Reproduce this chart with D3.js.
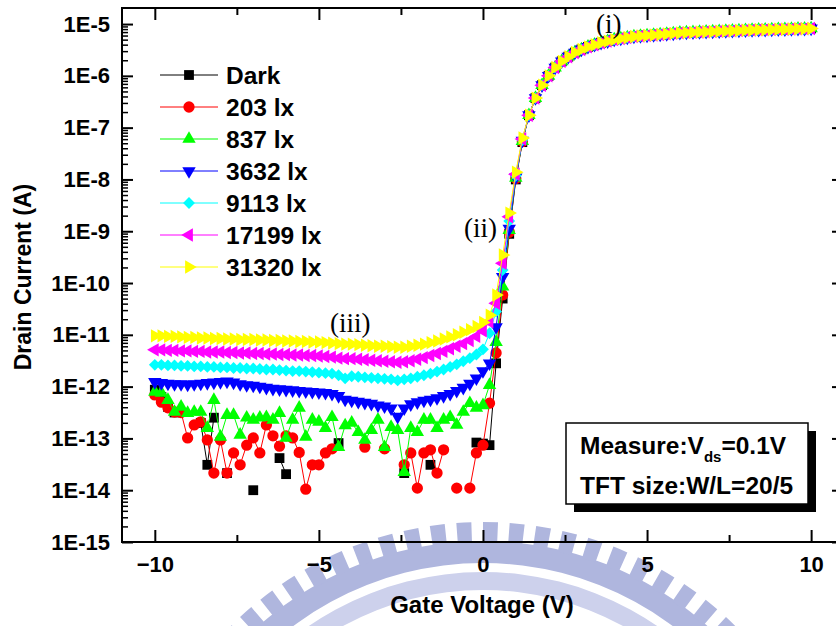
<!DOCTYPE html>
<html>
<head>
<meta charset="utf-8">
<script src="https://cdn.jsdelivr.net/npm/d3@7"></script>
<style>
  body { margin: 0; background: #fff; }
  svg { display: block; }
  text { font-family: "Liberation Sans", Arial, sans-serif; font-weight: bold; fill: #000; }
  .note { font-family: "Liberation Serif", "Times New Roman", serif; font-weight: normal; }
</style>
</head>
<body>
<svg id="chart" width="836" height="626"></svg>
<script>
// Gate sweep: -10 V to +10 V in 0.2 V steps (101 points)
const vgStart = -10, vgStep = 0.2, vgCount = 101;

// log10(Id) for each illumination, Vg = -10 ... +1.2 V (57 points).
// null = point not measured (negative current dropped from the log plot).
const darkLog = [
  -12.06,-12.20,-12.39,-12.50,null,null,null,-12.70,-13.51,-12.60,
  null,-13.67,null,null,null,-14.00,null,null,null,-13.38,
  -13.69,null,null,null,null,null,null,null,-13.09,null,
  null,null,null,null,null,null,null,null,-13.67,null,
  null,null,-13.51,null,null,null,null,null,null,-13.08,
  -13.10,-13.13,-11.55,-10.30,-9.05,-8.00,-7.28
];
const lux203Log = [
  -12.16,-12.30,-12.41,-12.49,-12.50,-12.99,-12.74,-12.68,-13.03,-13.67,
  -13.03,-13.67,-13.28,-13.51,-13.13,-12.99,-13.28,-12.74,-12.95,-13.15,
  -12.95,-12.99,-13.27,-13.98,-13.51,-13.51,-13.28,-13.20,null,null,
  null,null,-13.17,null,null,-13.20,null,null,-13.51,-13.28,
  -13.96,-13.28,-13.22,-13.67,-13.22,null,-13.96,null,-13.96,-13.28,
  -13.13,-12.32,-11.35,-10.23,-9.02,-7.98,-7.27
];
const lux837Log = [
  -12.10,-12.12,-12.26,-12.49,-12.39,-12.51,-12.49,-12.49,-12.80,-12.26,
  -12.97,-12.55,-12.55,-12.93,-12.60,-12.64,-12.60,-12.59,-12.64,-12.51,
  -12.99,-12.64,-12.41,-12.97,-12.64,-12.68,-12.80,-12.59,-13.17,-12.75,
  -12.70,-12.88,-13.03,-12.84,-12.64,-13.17,-12.78,-12.84,-13.65,-12.80,
  -12.88,-12.64,-12.64,-12.80,-12.64,-12.59,-12.74,-12.49,-12.32,-12.41,
  -12.36,-11.97,-11.14,-10.07,-8.98,-7.97,-7.26
];
const lux3632Log = [
  -11.91,-11.93,-11.94,-11.95,-11.95,-11.96,-11.95,-11.94,-11.93,-11.92,
  -11.91,-11.90,-11.92,-11.95,-11.97,-11.98,-12.00,-12.02,-12.04,-12.05,
  -12.06,-12.07,-12.08,-12.09,-12.10,-12.11,-12.12,-12.14,-12.18,-12.25,
  -12.27,-12.29,-12.31,-12.33,-12.36,-12.38,-12.42,-12.58,-12.42,-12.34,
  -12.30,-12.27,-12.25,-12.22,-12.18,-12.14,-12.08,-12.02,-11.94,-11.84,
  -11.70,-11.55,-10.85,-9.88,-8.95,-7.96,-7.25
];
const lux9113Log = [
  -11.58,-11.58,-11.59,-11.59,-11.60,-11.60,-11.61,-11.61,-11.62,-11.62,
  -11.63,-11.63,-11.64,-11.64,-11.65,-11.65,-11.66,-11.67,-11.67,-11.68,
  -11.69,-11.70,-11.70,-11.71,-11.72,-11.73,-11.74,-11.75,-11.78,-11.84,
  -11.80,-11.81,-11.82,-11.83,-11.84,-11.85,-11.86,-11.88,-11.86,-11.84,
  -11.81,-11.78,-11.75,-11.71,-11.67,-11.62,-11.57,-11.51,-11.45,-11.38,
  -11.28,-10.97,-10.55,-9.75,-8.80,-7.93,-7.24
];
const lux17199Log = [
  -11.29,-11.29,-11.30,-11.30,-11.31,-11.31,-11.32,-11.32,-11.33,-11.33,
  -11.33,-11.34,-11.34,-11.35,-11.35,-11.36,-11.36,-11.37,-11.37,-11.38,
  -11.38,-11.39,-11.39,-11.40,-11.40,-11.41,-11.42,-11.43,-11.45,-11.46,
  -11.46,-11.47,-11.48,-11.49,-11.50,-11.51,-11.52,-11.53,-11.52,-11.50,
  -11.47,-11.44,-11.40,-11.36,-11.32,-11.27,-11.22,-11.17,-11.11,-11.03,
  -10.92,-10.75,-10.39,-9.62,-8.72,-7.90,-7.22
];
const lux31320Log = [
  -11.02,-11.02,-11.03,-11.03,-11.04,-11.05,-11.05,-11.06,-11.06,-11.07,
  -11.07,-11.08,-11.08,-11.09,-11.09,-11.09,-11.10,-11.10,-11.11,-11.11,
  -11.12,-11.12,-11.13,-11.13,-11.14,-11.14,-11.15,-11.16,-11.17,-11.18,
  -11.18,-11.19,-11.20,-11.21,-11.22,-11.22,-11.23,-11.24,-11.24,-11.22,
  -11.20,-11.18,-11.15,-11.12,-11.08,-11.04,-11.00,-10.95,-10.90,-10.84,
  -10.76,-10.62,-10.23,-9.46,-8.65,-7.86,-7.20
];
// On-state branch, Vg = +1.4 ... +10 V (44 points); the curves coincide here
const onStateLog = [
  -6.76,-6.43,-6.18,-6.00,-5.84,-5.72,-5.63,-5.55,-5.49,-5.44,
  -5.40,-5.36,-5.33,-5.30,-5.28,-5.26,-5.24,-5.23,-5.22,-5.21,
  -5.20,-5.19,-5.18,-5.17,-5.165,-5.16,-5.155,-5.15,-5.145,-5.14,
  -5.135,-5.13,-5.125,-5.12,-5.115,-5.11,-5.11,-5.105,-5.10,-5.10,
  -5.095,-5.09,-5.09,-5.085
];

const seriesNames  = ["Dark", "203 lx", "837 lx", "3632 lx", "9113 lx", "17199 lx", "31320 lx"];
const seriesColors = ["#000000", "#ff0000", "#00ff00", "#0000ff", "#00ffff", "#ff00ff", "#ffff00"];
const seriesShapes = ["square", "circle", "up", "down", "diamond", "left", "right"];
const seriesLogs   = [darkLog, lux203Log, lux837Log, lux3632Log, lux9113Log, lux17199Log, lux31320Log];

const xMajor = [-10, -5, 0, 5, 10];
const xMinor = [-7.5, -2.5, 2.5, 7.5];
const yMajor = [1e-5, 1e-6, 1e-7, 1e-8, 1e-9, 1e-10, 1e-11, 1e-12, 1e-13, 1e-14, 1e-15];
const yLabels = ["1E-5", "1E-6", "1E-7", "1E-8", "1E-9", "1E-10", "1E-11", "1E-12", "1E-13", "1E-14", "1E-15"];

// ---------- layout ----------
const plotLeft = 122, plotRight = 840, plotTop = 8, plotBottom = 542;
const svg = d3.select("#chart");

const x = d3.scaleLinear().domain([-11, 10.88]).range([plotLeft, plotRight]);
const y = d3.scaleLog().domain([1e-15, Math.pow(10, -4.69)]).range([plotBottom, plotTop]);

// ---------- faint gear emblem behind the lower axis ----------
const emblem = svg.append("g").attr("transform", "translate(483,880)");
const arc = d3.arc();
emblem.append("path")
  .attr("d", arc({ innerRadius: 290, outerRadius: 308, startAngle: -1.0, endAngle: 1.0 }))
  .attr("fill", "#cdd1ec");
emblem.append("path")
  .attr("d", arc({ innerRadius: 317, outerRadius: 339, startAngle: -1.0, endAngle: 1.0 }))
  .attr("fill", "#afb6de");
const toothPitch = 0.0746, toothWidth = 0.042;
emblem.selectAll("path.tooth")
  .data(d3.range(-14, 14))
  .join("path")
  .attr("class", "tooth")
  .attr("d", k => arc({ innerRadius: 337, outerRadius: 358,
                        startAngle: k * toothPitch, endAngle: k * toothPitch + toothWidth }))
  .attr("fill", "#afb6de");

// ---------- axes ----------
function clean(g) { g.select(".domain").remove(); }

svg.append("g").attr("transform", `translate(0,${plotBottom})`)
  .call(d3.axisBottom(x).tickValues(xMajor).tickSizeInner(-12).tickSizeOuter(0).tickPadding(14)
        .tickFormat(d3.format("d")))
  .call(clean)
  .call(g => g.selectAll("line").attr("stroke-width", 2))
  .call(g => g.selectAll("text").attr("font-size", 22).attr("font-family", null));
svg.append("g").attr("transform", `translate(0,${plotBottom})`)
  .call(d3.axisBottom(x).tickValues(xMinor).tickSizeInner(-7).tickSizeOuter(0).tickFormat(""))
  .call(clean).call(g => g.selectAll("line").attr("stroke-width", 2));
svg.append("g").attr("transform", `translate(0,${plotTop})`)
  .call(d3.axisTop(x).tickValues(xMajor).tickSizeInner(-12).tickSizeOuter(0).tickFormat(""))
  .call(clean).call(g => g.selectAll("line").attr("stroke-width", 2));
svg.append("g").attr("transform", `translate(0,${plotTop})`)
  .call(d3.axisTop(x).tickValues(xMinor).tickSizeInner(-7).tickSizeOuter(0).tickFormat(""))
  .call(clean).call(g => g.selectAll("line").attr("stroke-width", 2));

const yMinor = [];
for (let e = -15; e < -5; e++) for (let m = 2; m <= 9; m++) yMinor.push(m * Math.pow(10, e));

svg.append("g").attr("transform", `translate(${plotLeft},0)`)
  .call(d3.axisLeft(y).tickValues(yMajor).tickSizeInner(-11).tickSizeOuter(0).tickPadding(12)
        .tickFormat((d, i) => yLabels[i]))
  .call(clean)
  .call(g => g.selectAll("line").attr("stroke-width", 2))
  .call(g => g.selectAll("text").attr("font-size", 22).attr("font-family", null));
svg.append("g").attr("transform", `translate(${plotLeft},0)`)
  .call(d3.axisLeft(y).tickValues(yMinor).tickSizeInner(-6).tickSizeOuter(0).tickFormat(""))
  .call(clean).call(g => g.selectAll("line").attr("stroke-width", 1.5));
svg.append("g").attr("transform", `translate(${plotRight},0)`)
  .call(d3.axisRight(y).tickValues(yMajor).tickSizeInner(-8).tickSizeOuter(0).tickFormat(""))
  .call(clean).call(g => g.selectAll("line").attr("stroke-width", 2));

svg.append("rect")
  .attr("x", plotLeft).attr("y", plotTop)
  .attr("width", plotRight - plotLeft).attr("height", plotBottom - plotTop)
  .attr("fill", "none").attr("stroke", "#000").attr("stroke-width", 2);

// axis titles
svg.append("text").attr("x", 482).attr("y", 613).attr("text-anchor", "middle")
  .attr("font-size", 24).text("Gate Voltage (V)");
svg.append("text").attr("transform", "translate(31,277) rotate(-90)").attr("text-anchor", "middle")
  .attr("font-size", 23).text("Drain Current (A)");

// ---------- series ----------
const symbolPath = {
  square:  d3.symbol(d3.symbolSquare, 96)(),
  circle:  d3.symbol(d3.symbolCircle, 100)(),
  up:      d3.symbol(d3.symbolTriangle, 78)(),
  down:    d3.symbol(d3.symbolTriangle, 78)(),
  left:    d3.symbol(d3.symbolTriangle, 78)(),
  right:   d3.symbol(d3.symbolTriangle, 78)(),
  diamond: d3.symbol(d3.symbolSquare, 70)()
};
const symbolRotate = { square: 0, circle: 0, up: 0, down: 180, left: -90, right: 90, diamond: 45 };

const hasValue = d => d.logI !== null && d.logI !== undefined;
const series = seriesNames.map((name, k) => {
  const logs = seriesLogs[k].concat(onStateLog);
  const pts = d3.range(vgCount).map(i => ({ vg: vgStart + i * vgStep, logI: logs[i] }));
  return { name, color: seriesColors[k], shape: seriesShapes[k], pts };
});

// the trace breaks where a point is missing
const line = d3.line().defined(hasValue)
  .x(d => x(d.vg)).y(d => y(Math.pow(10, d.logI)));

const plot = svg.append("g");
series.forEach(s => {
  const g = plot.append("g");
  g.append("path").attr("d", line(s.pts)).attr("fill", "none")
    .attr("stroke", s.color).attr("stroke-width", 1);
  g.selectAll("path.m").data(s.pts.filter(hasValue)).join("path").attr("class", "m")
    .attr("d", symbolPath[s.shape])
    .attr("transform", d => `translate(${x(d.vg)},${y(Math.pow(10, d.logI))}) rotate(${symbolRotate[s.shape]})`)
    .attr("fill", s.color);
});

// ---------- legend ----------
const legend = svg.append("g");
series.forEach((s, k) => {
  const ly = 75 + 32 * k;
  legend.append("line").attr("x1", 160).attr("x2", 218).attr("y1", ly).attr("y2", ly)
    .attr("stroke", s.color).attr("stroke-width", 1);
  legend.append("path").attr("d", symbolPath[s.shape])
    .attr("transform", `translate(189,${ly}) rotate(${symbolRotate[s.shape]})`)
    .attr("fill", s.color);
  legend.append("text").attr("x", 226).attr("y", ly + 8.5).attr("font-size", 24.5).text(s.name);
});

// ---------- region labels ----------
svg.append("text").attr("class", "note").attr("x", 596).attr("y", 33).attr("font-size", 27).text("(i)");
svg.append("text").attr("class", "note").attr("x", 464).attr("y", 237).attr("font-size", 27).text("(ii)");
svg.append("text").attr("class", "note").attr("x", 330).attr("y", 332).attr("font-size", 27).text("(iii)");

// ---------- measurement note box ----------
const box = svg.append("g");
box.append("rect").attr("x", 574).attr("y", 431).attr("width", 242).attr("height", 81).attr("fill", "#000");
box.append("rect").attr("x", 566).attr("y", 423).attr("width", 242).attr("height", 81)
  .attr("fill", "#fff").attr("stroke", "#000").attr("stroke-width", 1.5);
const t1 = box.append("text").attr("x", 580).attr("y", 454).attr("font-size", 24.5);
t1.append("tspan").text("Measure:V");
t1.append("tspan").attr("font-size", 15).attr("dy", 8).text("ds");
t1.append("tspan").attr("dy", -8).text("=0.1V");
box.append("text").attr("x", 580).attr("y", 494).attr("font-size", 24.5).text("TFT size:W/L=20/5");
</script>
</body>
</html>
